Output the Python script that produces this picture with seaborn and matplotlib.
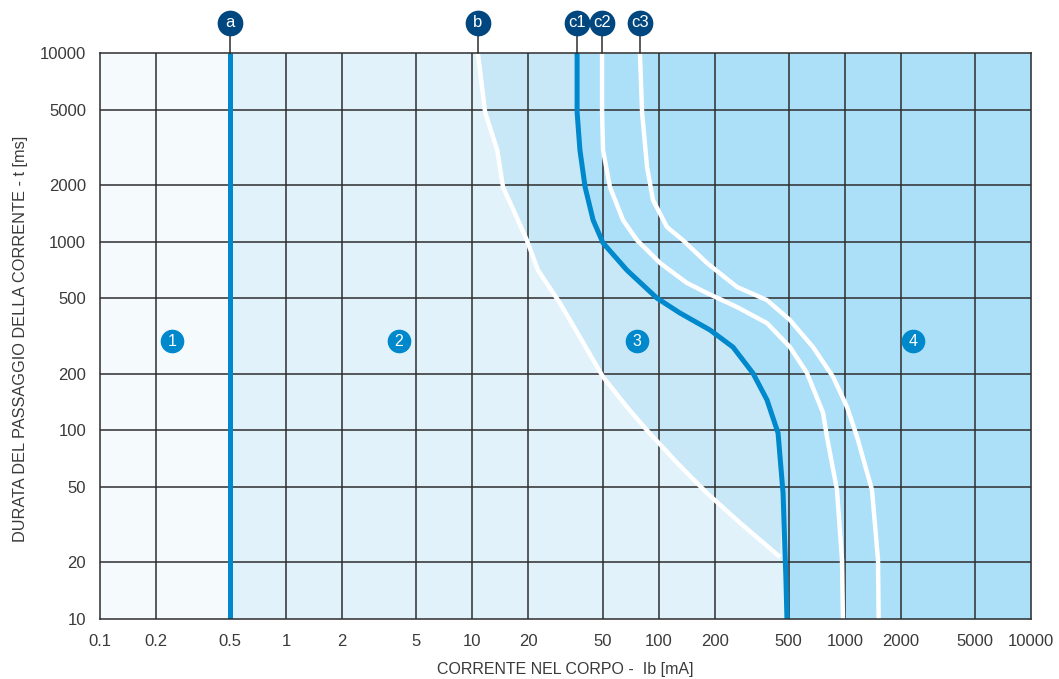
import numpy as np
import pandas as pd
import seaborn as sns
import matplotlib.pyplot as plt
from matplotlib.transforms import blended_transform_factory

# ---------------- data (current in mA, time in ms) ----------------
x_ticks = [0.1, 0.2, 0.5, 1, 2, 5, 10, 20, 50, 100, 200, 500, 1000, 2000, 5000, 10000]
y_ticks = [10, 20, 50, 100, 200, 500, 1000, 2000, 5000, 10000]

a_x = [0.5, 0.5]
a_y = [10000, 10]

b_x = [10.7, 11.7, 13.6, 14.6, 16.9, 19.6, 22.5, 29.5, 37.8, 50.3, 67.6, 86.7,
       126, 182, 274, 449]
b_y = [10000, 4864, 3055, 1947, 1418, 1019, 706, 473, 312, 192, 133, 100,
       67.1, 46.5, 32.3, 21.3]

c1_x = [36.5, 36.5, 37.8, 40.3, 44.5, 50.3, 67.6, 98.0, 130, 189, 251, 321,
        382, 438, 466, 483, 489]
c1_y = [10000, 4864, 3055, 1947, 1301, 984, 706, 502, 419, 340, 276, 201,
        145, 96.8, 46.5, 16.1, 10]

c2_x = [49.7, 49.7, 50.3, 54.8, 64.4, 76.5, 102, 142, 182, 264, 382, 508,
        627, 764, 802, 908, 966, 977]
c2_y = [10000, 4864, 3055, 1947, 1301, 1019, 770, 604, 534, 450, 370, 276,
        201, 124, 92.2, 48.3, 20.5, 10]

c3_x = [79.4, 81.5, 86.7, 93.3, 111, 135, 182, 264, 382, 508, 675, 865,
        1028, 1164, 1400, 1508, 1520]
c3_y = [10000, 4864, 2485, 1661, 1195, 1019, 770, 575, 490, 384, 276, 192,
        133, 92.2, 48.3, 20.5, 10]

curve_names = ["a", "b", "c1", "c2", "c3"]
zone_labels = ["1", "2", "3", "4"]
zone_x = [0.244, 4.03, 76.5, 2323]
zone_y = [297, 297, 297, 297]

# ---------------- style ----------------
sns.set_theme(style="white")
plt.rcParams['font.family'] = ['Liberation Sans', 'DejaVu Sans']

z1 = "#f5fafd"
z2 = "#e1f2fa"
z3 = "#c8e8f8"
z4 = "#acdff8"
blue = "#0088cc"
navy = "#00467f"
grid_c = "#2e2e2e"
txt_c = "#3a3a3a"

fig = plt.figure(figsize=(10.59, 6.79), dpi=100)
ax = fig.add_axes([100 / 1059, 60 / 679, 931 / 1059, 566 / 679])
ax.set_facecolor(z1)
ax.set_xscale("log")
ax.set_yscale("log")
ax.set_xlim(0.1, 10000)
ax.set_ylim(10, 10000)

# zones
ax.axvspan(0.5, 10000, color=z2, lw=0, zorder=0)
keep = [i for i, v in enumerate(c1_y) if v > b_y[-1]]
poly_x = b_x + [c1_x[i] for i in reversed(keep)]
poly_y = b_y + [c1_y[i] for i in reversed(keep)]
ax.fill(poly_x, poly_y, color=z3, lw=0, zorder=0.5)
ax.fill_betweenx(c1_y, c1_x, 10000, color=z4, lw=0, zorder=0.6)

# grid
for v in x_ticks[1:-1]:
    ax.axvline(v, color=grid_c, lw=1.1, zorder=1)
for v in y_ticks[1:-1]:
    ax.axhline(v, color=grid_c, lw=1.1, zorder=1)
for s in ax.spines.values():
    s.set_color(grid_c)
    s.set_linewidth(1.1)
    s.set_zorder(5)

# curves
curves = {"a": (a_x, a_y), "b": (b_x, b_y), "c1": (c1_x, c1_y),
          "c2": (c2_x, c2_y), "c3": (c3_x, c3_y)}
colors = {"a": blue, "b": "white", "c1": blue, "c2": "white", "c3": "white"}
widths = {"a": 3.6, "b": 3.2, "c1": 3.6, "c2": 3.2, "c3": 3.2}
for name in curve_names:
    cx, cy = curves[name]
    df = pd.DataFrame({"I": cx, "t": cy})
    sns.lineplot(data=df, x="I", y="t", sort=False, estimator=None,
                 color=colors[name], lw=widths[name], ax=ax, zorder=3,
                 solid_joinstyle="round", solid_capstyle="butt")

# top labels
trans = blended_transform_factory(ax.transData, ax.transAxes)
for name in curve_names:
    x0 = curves[name][0][0]
    ax.plot([x0, x0], [1.0, 1.05], color=grid_c, lw=1.1, transform=trans,
            clip_on=False, zorder=6)
    ax.plot(x0, 1.0535, "o", ms=17.5, color=navy, mec=navy, transform=trans,
            clip_on=False, zorder=7)
    ax.text(x0, 1.0545, name, color="white", fontsize=12, ha="center",
            va="center", transform=trans, clip_on=False, zorder=8)

# zone markers
for lab, zx, zy in zip(zone_labels, zone_x, zone_y):
    ax.plot(zx, zy, "o", ms=16, color=blue, mec=blue, zorder=7)
    ax.text(zx, zy, lab, color="white", fontsize=11.5, ha="center",
            va="center", zorder=8)

# ticks
ax.set_xticks(x_ticks)
ax.set_xticklabels([("%g" % v) for v in x_ticks])
ax.set_yticks(y_ticks)
ax.set_yticklabels([("%g" % v) for v in y_ticks])
ax.minorticks_off()
ax.tick_params(axis="both", length=0, labelsize=12, colors=txt_c)
ax.tick_params(axis="x", pad=11)
ax.tick_params(axis="y", pad=10)

ax.set_xlabel("CORRENTE NEL CORPO -  Ib [mA]", fontsize=11.5, color=txt_c,
              labelpad=9)
ax.set_ylabel("DURATA DEL PASSAGGIO DELLA CORRENTE - t [ms]", fontsize=11.8,
              color=txt_c)
ax.yaxis.set_label_coords(-0.077, 0.495)

fig.savefig("out.png", dpi=100)
